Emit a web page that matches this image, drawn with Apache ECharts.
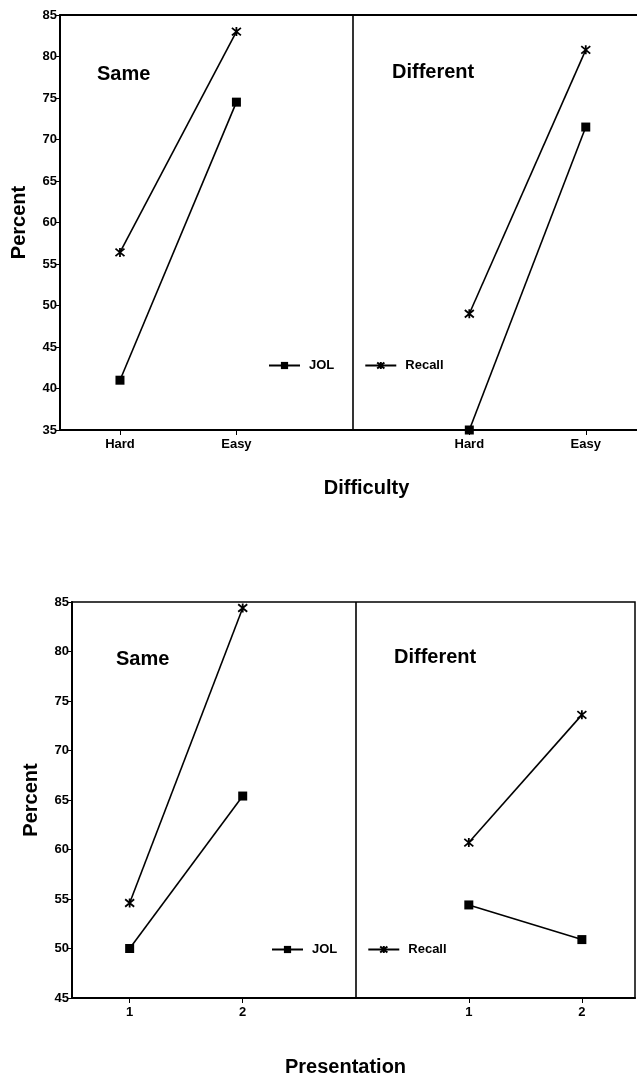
<!DOCTYPE html>
<html>
<head>
<meta charset="utf-8">
<title>JOL and Recall by Difficulty and Presentation</title>
<script src="https://cdn.jsdelivr.net/npm/echarts@6/dist/echarts.min.js"></script>
<style>
  html, body { margin: 0; padding: 0; background: #fff; }
  #chart { width: 637px; height: 1075px; }
</style>
</head>
<body>
<div id="chart"></div>
<script>
// Tick labels
const difficultyLabels = ['Hard', 'Easy'];
const presentationLabels = ['1', '2'];

// Difficulty panel (percent)
const diffJolSame = [41, 74.5];
const diffJolDifferent = [35, 71.5];
const diffRecallSame = [56.4, 83];
const diffRecallDifferent = [49, 80.8];

// Presentation panel (percent)
const presJolSame = [50, 65.4];
const presJolDifferent = [54.4, 50.9];
const presRecallSame = [54.6, 84.4];
const presRecallDifferent = [60.7, 73.6];

// x slots: two conditions on each side of the divider
const sameSlots = [1, 2];
const differentSlots = [4, 5];
const dividerSlot = 3;

const FONT = '"Liberation Sans", Arial, sans-serif';
const asterisk = 'path://M0,0L10,10M10,0L0,10M5,-1L5,11';

function points(vals, slots) {
  return vals.map((v, i) => [slots[i], v]);
}

function lineSeries(name, grid, data, isRecall) {
  return {
    name: name,
    type: 'line',
    xAxisIndex: grid,
    yAxisIndex: grid,
    data: data,
    symbol: isRecall ? asterisk : 'rect',
    symbolSize: 9,
    showAllSymbol: true,
    lineStyle: { color: '#000', width: 1.6 },
    itemStyle: isRecall
      ? { color: '#000', borderColor: '#000', borderWidth: 1.8 }
      : { color: '#000', borderWidth: 0 },
    emphasis: { disabled: true },
    animation: false,
    z: 3
  };
}

function dividerSeries(grid) {
  return {
    name: 'divider',
    type: 'line',
    xAxisIndex: grid,
    yAxisIndex: grid,
    data: [],
    markLine: {
      silent: true,
      symbol: ['none', 'none'],
      label: { show: false },
      lineStyle: { type: 'solid', color: '#000', width: 1.6 },
      data: [{ xAxis: dividerSlot }]
    },
    animation: false
  };
}

function xAxis(grid, labels, name, nameGap, min, max, namePadding) {
  return {
    gridIndex: grid,
    type: 'value',
    min: min,
    max: max,
    name: name,
    nameLocation: 'middle',
    nameGap: nameGap,
    nameTextStyle: { fontFamily: FONT, fontWeight: 'bold', fontSize: 20, color: '#000', padding: namePadding },
    axisLine: { lineStyle: { color: '#000', width: 2 } },
    splitLine: { show: false },
    axisTick: { show: true, customValues: [1, 2, 4, 5], length: 5, lineStyle: { color: '#000', width: 1 } },
    axisLabel: {
      customValues: [1, 2, 4, 5],
      margin: 8,
      fontFamily: FONT, fontWeight: 'bold', fontSize: 13, color: '#000',
      formatter: v => labels[(Math.round(v) - 1) % 3]
    }
  };
}

// plain frame line along the top of the upper panel
function topFrame(grid, min, max) {
  return {
    gridIndex: grid,
    type: 'value',
    position: 'top',
    min: min,
    max: max,
    axisLine: { show: true, lineStyle: { color: '#000', width: 2 } },
    axisTick: { show: false },
    axisLabel: { show: false },
    splitLine: { show: false }
  };
}

function yAxis(grid, min, nameGap) {
  return {
    gridIndex: grid,
    type: 'value',
    min: min,
    max: 85,
    interval: 5,
    name: 'Percent',
    nameLocation: 'middle',
    nameRotate: 90,
    nameGap: nameGap,
    nameTextStyle: { fontFamily: FONT, fontWeight: 'bold', fontSize: 20, color: '#000' },
    axisLine: { show: true, lineStyle: { color: '#000', width: 2 } },
    splitLine: { show: false },
    axisTick: { show: true, length: 4, lineStyle: { color: '#000', width: 1 } },
    axisLabel: { margin: 3, fontFamily: FONT, fontWeight: 'bold', fontSize: 13, color: '#000' }
  };
}

function legend(top, left) {
  return {
    data: ['JOL', 'Recall'],
    top: top,
    left: left,
    itemWidth: 31,
    itemHeight: 9,
    itemGap: 30,
    selectedMode: false,
    backgroundColor: '#fff',
    padding: [6, 4],
    textStyle: { fontFamily: FONT, fontWeight: 'bold', fontSize: 13, color: '#000', padding: [0, 0, 0, 4] }
  };
}

function panelText(x, y, text) {
  return {
    type: 'text', left: x, top: y, z: 10,
    style: { text: text, font: 'bold 20px ' + FONT, fill: '#000' }
  };
}

const chart = echarts.init(document.getElementById('chart'), null, { renderer: 'canvas' });

const topMin = 0.485, topMax = 5.44;
const botMin = 0.49, botMax = 5.47;

chart.setOption({
  backgroundColor: '#fff',
  animation: false,
  grid: [
    { left: 60, top: 15, width: 577, height: 415, show: false, containLabel: false, outerBoundsMode: 'none' },
    { left: 72, top: 602, width: 563, height: 396, show: true, borderColor: '#000', borderWidth: 1.5, containLabel: false, outerBoundsMode: 'none' }
  ],
  xAxis: [
    xAxis(0, difficultyLabels, 'Difficulty', 48, topMin, topMax, [0, 0, 0, 36]),
    xAxis(1, presentationLabels, 'Presentation', 59, botMin, botMax, [0, 16, 0, 0]),
    topFrame(0, topMin, topMax)
  ],
  yAxis: [
    yAxis(0, 35, 31),
    yAxis(1, 45, 31)
  ],
  legend: [legend(353, 264), legend(937, 267)],
  graphic: [
    panelText(97, 64, 'Same'),
    panelText(392, 62, 'Different'),
    panelText(116, 649, 'Same'),
    panelText(394, 647, 'Different')
  ],
  series: [
    dividerSeries(0),
    lineSeries('JOL', 0, points(diffJolSame, sameSlots), false),
    lineSeries('JOL', 0, points(diffJolDifferent, differentSlots), false),
    lineSeries('Recall', 0, points(diffRecallSame, sameSlots), true),
    lineSeries('Recall', 0, points(diffRecallDifferent, differentSlots), true),
    dividerSeries(1),
    lineSeries('JOL', 1, points(presJolSame, sameSlots), false),
    lineSeries('JOL', 1, points(presJolDifferent, differentSlots), false),
    lineSeries('Recall', 1, points(presRecallSame, sameSlots), true),
    lineSeries('Recall', 1, points(presRecallDifferent, differentSlots), true)
  ]
});
</script>
</body>
</html>
